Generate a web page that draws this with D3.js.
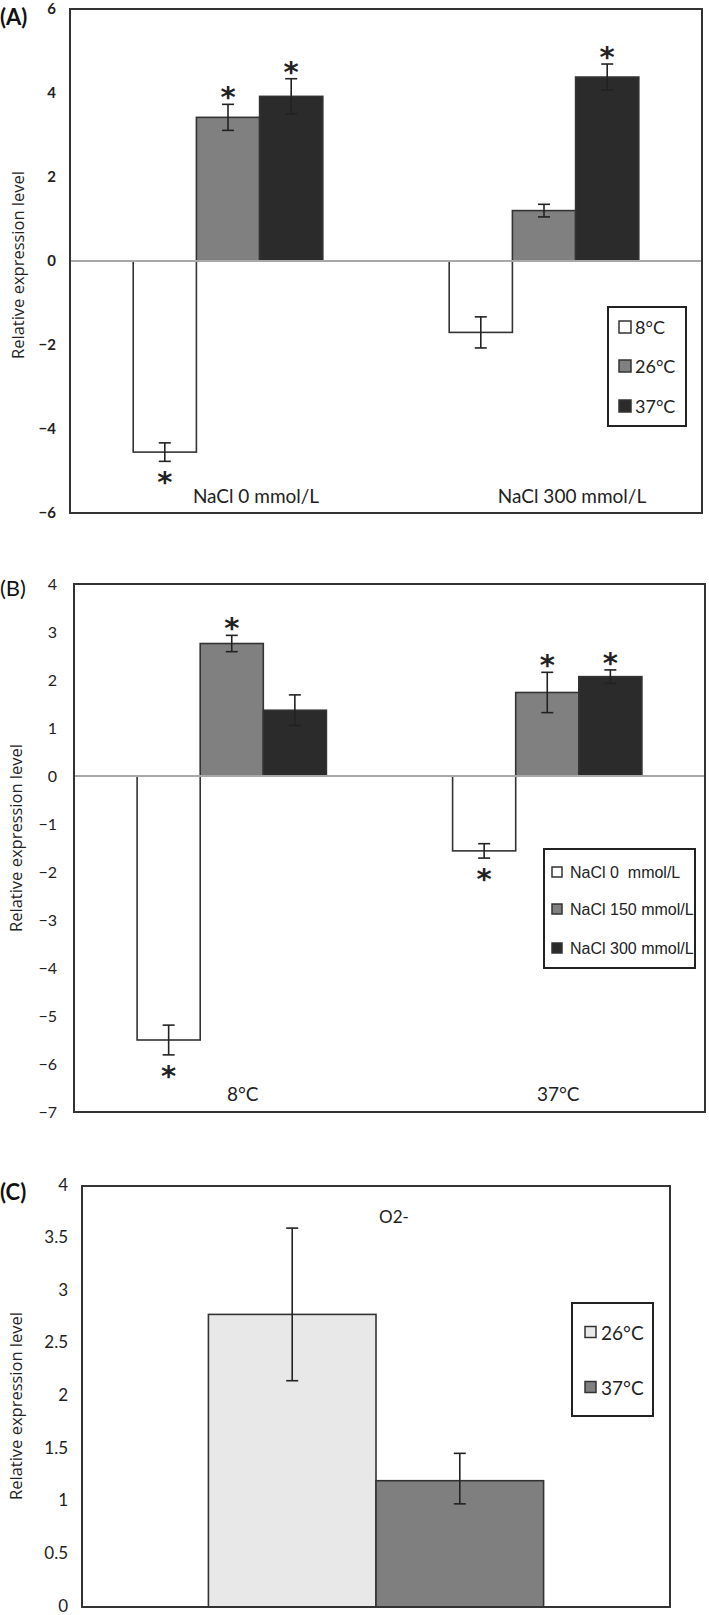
<!DOCTYPE html>
<html><head><meta charset="utf-8">
<script src="https://cdn.jsdelivr.net/npm/d3@7"></script>
<style>body{margin:0;background:#fff} svg{display:block} text{white-space:pre}</style>
</head><body><svg id="c" width="709" height="1615"></svg>
<script>
// ---------- Panel A data ----------
const catsA = ["NaCl 0 mmol/L", "NaCl 300 mmol/L"];
const seriesA = ["8°C", "26°C", "37°C"];
const valA8 = [-4.55, -1.70];
const valA26 = [3.42, 1.20];
const valA37 = [3.92, 4.38];
const errA8 = [0.22, 0.37];
const errA26 = [0.31, 0.15];
const errA37 = [0.42, 0.31];
const sigA8 = [1, 0];
const sigA26 = [1, 0];
const sigA37 = [1, 1];
const ticksA = [-6, -4, -2, 0, 2, 4, 6];

// ---------- Panel B data ----------
const catsB = ["8°C", "37°C"];
const seriesB = ["NaCl 0  mmol/L", "NaCl 150 mmol/L", "NaCl 300 mmol/L"];
const valB0 = [-5.50, -1.56];
const valB150 = [2.76, 1.74];
const valB300 = [1.37, 2.07];
const errB0 = [0.31, 0.15];
const errB150 = [0.17, 0.42];
const errB300 = [0.32, 0.14];
const sigB0 = [1, 1];
const sigB150 = [1, 1];
const sigB300 = [0, 1];
const ticksB = [-7, -6, -5, -4, -3, -2, -1, 0, 1, 2, 3, 4];

// ---------- Panel C data ----------
const catsC = ["O2-"];
const seriesC = ["26°C", "37°C"];
const valC26 = [2.78];
const valC37 = [1.20];
const errUpC26 = [0.82];
const errDnC26 = [0.63];
const errUpC37 = [0.26];
const errDnC37 = [0.22];
const ticksC = [0, 0.5, 1, 1.5, 2, 2.5, 3, 3.5, 4];

const yTitle = "Relative expression level";

const svg = d3.select("#c");
svg.append("rect").attr("width", 709).attr("height", 1615).attr("fill", "#fff");

const CAL = "Lato, 'Liberation Sans', Arial, sans-serif";
const ARIAL = "'Liberation Sans', Arial, sans-serif";

function drawPanel(p) {
  const g = svg.append("g");
  const x = d3.scaleBand().domain(p.cats).range([p.left, p.right]).padding(0);
  const bw = x.bandwidth();
  const xs = d3.scaleBand().domain(p.series.map(s => s.name))
    .range([bw * p.groupFrom, bw * p.groupTo]).padding(0);
  const y = d3.scaleLinear().domain(p.yDomain).range([p.bottom, p.top]);

  const rows = [];
  p.series.forEach(s => {
    p.cats.forEach((c, i) => {
      rows.push({
        s, c, v: s.values[i],
        eu: s.errUp[i], ed: s.errDn[i],
        sig: s.sig ? s.sig[i] : 0
      });
    });
  });

  // bars
  g.selectAll("rect.bar").data(rows).join("rect")
    .attr("class", "bar")
    .attr("x", d => x(d.c) + xs(d.s.name))
    .attr("width", xs.bandwidth())
    .attr("y", d => y(Math.max(0, d.v)))
    .attr("height", d => Math.abs(y(d.v) - y(0)))
    .attr("fill", d => d.s.fill)
    .attr("stroke", "#333").attr("stroke-width", 1.6);

  // zero line
  if (p.zeroLine) {
    g.append("line")
      .attr("x1", p.left).attr("x2", p.right)
      .attr("y1", y(0)).attr("y2", y(0))
      .attr("stroke", "#a8a8a8").attr("stroke-width", 2);
  }

  // error bars
  const cap = 6;
  const eg = g.selectAll("g.err").data(rows).join("g").attr("class", "err")
    .attr("stroke", "#222").attr("stroke-width", 1.6);
  const cx = d => x(d.c) + xs(d.s.name) + xs.bandwidth() / 2;
  eg.append("line").attr("x1", cx).attr("x2", cx)
    .attr("y1", d => y(d.v + d.eu)).attr("y2", d => y(d.v - d.ed));
  eg.append("line").attr("x1", d => cx(d) - cap).attr("x2", d => cx(d) + cap)
    .attr("y1", d => y(d.v + d.eu)).attr("y2", d => y(d.v + d.eu));
  eg.append("line").attr("x1", d => cx(d) - cap).attr("x2", d => cx(d) + cap)
    .attr("y1", d => y(d.v - d.ed)).attr("y2", d => y(d.v - d.ed));

  // significance asterisks
  const fsStar = 29;
  g.selectAll("text.star").data(rows.filter(d => d.sig)).join("text")
    .attr("class", "star")
    .attr("x", cx)
    .attr("y", d => (d.v >= 0 ? y(d.v + d.eu) - 13 : y(d.v - d.ed) + 15) + 0.55 * fsStar)
    .attr("text-anchor", "middle")
    .attr("font-family", "'DejaVu Sans', sans-serif")
    .attr("font-weight", "bold")
    .attr("font-size", fsStar)
    .attr("fill", "#222")
    .text("*");

  // frame
  g.append("rect")
    .attr("x", p.left).attr("y", p.top)
    .attr("width", p.right - p.left).attr("height", p.bottom - p.top)
    .attr("fill", "none").attr("stroke", "#333").attr("stroke-width", 2);

  // y axis
  const ax = g.append("g").attr("transform", `translate(${p.left},0)`)
    .call(d3.axisLeft(y).tickValues(p.ticks).tickSize(0).tickPadding(p.tickPad)
      .tickFormat(d3.format("~g")));
  ax.select(".domain").remove();
  ax.selectAll("text")
    .attr("dy", p.tickDy)
    .attr("font-family", CAL).attr("font-size", p.tickSize)
    .attr("font-weight", p.tickWeight).attr("fill", "#222");

  // category labels
  if (p.catLabels) {
    g.selectAll("text.cat").data(p.cats).join("text")
      .attr("class", "cat")
      .attr("x", c => x(c) + bw / 2 + p.catDx)
      .attr("y", p.catY)
      .attr("text-anchor", "middle")
      .attr("font-family", CAL).attr("font-size", p.catSize).attr("fill", "#222")
      .text(c => c);
  }

  // y title
  g.append("text")
    .attr("transform", `translate(${p.titleX},${p.titleY}) rotate(-90)`)
    .attr("text-anchor", "middle").attr("dominant-baseline", "central")
    .attr("font-family", "'Open Sans', sans-serif").attr("font-size", 16.5)
    .attr("fill", "#222").text(yTitle);

  // panel letter
  g.append("text").attr("x", 0).attr("y", p.letterY)
    .attr("font-family", CAL).attr("font-weight", p.letterWeight)
    .attr("font-size", 22).attr("fill", "#111").text(p.letter);

  // legend
  const L = p.legend;
  g.append("rect").attr("x", L.x).attr("y", L.y).attr("width", L.w).attr("height", L.h)
    .attr("fill", "#fff").attr("stroke", "#222").attr("stroke-width", 2);
  const li = g.selectAll("g.leg").data(p.series).join("g").attr("class", "leg")
    .attr("transform", (s, i) => `translate(${L.x + L.sx},${L.items[i]})`);
  li.append("rect").attr("x", 0).attr("y", -L.sq / 2).attr("width", L.sq).attr("height", L.sq)
    .attr("fill", s => s.fill).attr("stroke", "#333").attr("stroke-width", 1.5);
  li.append("text").attr("x", L.tx).attr("y", 0).attr("dominant-baseline", "central")
    .attr("xml:space", "preserve")
    .attr("font-family", L.font).attr("font-size", L.fs).attr("fill", "#222")
    .text(s => s.name);

  return {x, y};
}

// Panel A
drawPanel({
  letter: "(A)", letterY: 25, letterWeight: "bold",
  left: 70, right: 702, top: 9, bottom: 513, yDomain: [-6, 6], ticks: ticksA,
  cats: catsA, groupFrom: 0.2, groupTo: 0.8, zeroLine: true,
  series: [
    {name: seriesA[0], values: valA8, errUp: errA8, errDn: errA8, sig: sigA8, fill: "#ffffff"},
    {name: seriesA[1], values: valA26, errUp: errA26, errDn: errA26, sig: sigA26, fill: "#808080"},
    {name: seriesA[2], values: valA37, errUp: errA37, errDn: errA37, sig: sigA37, fill: "#2b2b2b"}
  ],
  tickPad: 14, tickSize: 15, tickWeight: "bold", tickDy: "0.32em",
  catLabels: true, catDx: 28, catY: 503, catSize: 19,
  titleX: 17, titleY: 265,
  legend: {x: 608, y: 307, w: 78, h: 119, sx: 11, sq: 12, tx: 16, items: [327, 366, 406],
           font: CAL, fs: 18}
});

// Panel B
drawPanel({
  letter: "(B)", letterY: 596, letterWeight: "normal",
  left: 74, right: 705, top: 584, bottom: 1112, yDomain: [-7, 4], ticks: ticksB,
  cats: catsB, groupFrom: 0.2, groupTo: 0.8, zeroLine: true,
  series: [
    {name: seriesB[0], values: valB0, errUp: errB0, errDn: errB0, sig: sigB0, fill: "#ffffff"},
    {name: seriesB[1], values: valB150, errUp: errB150, errDn: errB150, sig: sigB150, fill: "#808080"},
    {name: seriesB[2], values: valB300, errUp: errB300, errDn: errB300, sig: sigB300, fill: "#2b2b2b"}
  ],
  tickPad: 17, tickSize: 16, tickWeight: "normal", tickDy: "0.32em",
  catLabels: true, catDx: 11, catY: 1101, catSize: 19,
  titleX: 15, titleY: 838,
  legend: {x: 544, y: 849, w: 151, h: 119, sx: 8, sq: 10, tx: 18, items: [872, 909, 948],
           font: ARIAL, fs: 16}
});

// Panel C
drawPanel({
  letter: "(C)", letterY: 1200, letterWeight: "bold",
  left: 82, right: 670, top: 1186, bottom: 1607, yDomain: [0, 4], ticks: ticksC,
  cats: catsC, groupFrom: 0.215, groupTo: 0.785, zeroLine: false,
  series: [
    {name: seriesC[0], values: valC26, errUp: errUpC26, errDn: errDnC26, fill: "#e8e8e8"},
    {name: seriesC[1], values: valC37, errUp: errUpC37, errDn: errDnC37, fill: "#7f7f7f"}
  ],
  tickPad: 14, tickSize: 17, tickWeight: "normal", tickDy: "0.24em",
  catLabels: false,
  titleX: 15, titleY: 1406,
  legend: {x: 572, y: 1303, w: 81, h: 113, sx: 13, sq: 11, tx: 16, items: [1332, 1387],
           font: CAL, fs: 19}
});

// Panel C title (category name)
svg.append("text").attr("x", 394).attr("y", 1223).attr("text-anchor", "middle")
  .attr("font-family", CAL).attr("font-size", 17).attr("fill", "#222").text(catsC[0]);
</script>
</body></html>
